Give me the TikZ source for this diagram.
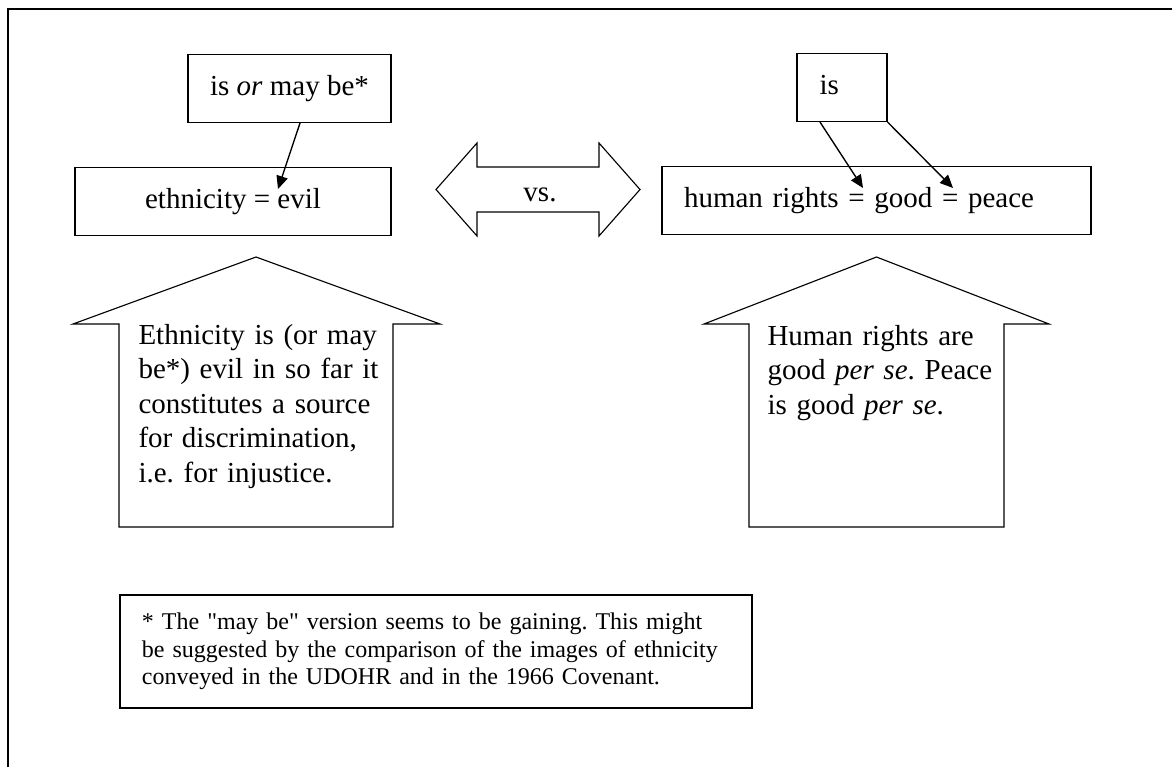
\documentclass[tikz,border=0pt]{standalone}
\usepackage{fontspec}
\setmainfont{Liberation Serif}[Ligatures=TeXOff]
\usepackage{tikz}
\usetikzlibrary{arrows.meta}
\frenchspacing
\tikzstyle{process} = [rectangle, minimum height=27.2pt, inner sep=0pt, text height=8.4pt, text depth=2.6pt, text centered, draw=black, line width=0.45pt]
\tikzstyle{arrowtext} = [text width=120pt, align=left, inner sep=0pt, anchor=base west]
\tikzstyle{notebox} = [rectangle, draw=black, line width=0.45pt, inner sep=0pt, minimum width=252.8pt, minimum height=45.2pt, text width=235.2pt, align=left, font=\fontsize{9.6}{11}\selectfont]
\tikzstyle{outline} = [draw=black, line width=0.45pt]
\tikzstyle{arrow} = [line width=0.55pt, -{Triangle[length=5.2pt,width=4.6pt]}]

\begin{document}
\begin{tikzpicture}[x=0.4pt, y=-0.4pt, node distance=45.2pt, font=\fontsize{11.6}{13.8}\selectfont]
		\useasboundingbox (0,0) rectangle (1172,767);
		\draw [line width=0.6pt] (8,767) -- (8,9) -- (1172,9);

		\node (ethn) [process, minimum width=126.4pt] at (233,201.5) {ethnicity = evil};
		\node (ismay) [process, minimum width=81.2pt, above of=ethn, xshift=22.6pt] {is \textit{or} may be*};
		\node (hr) [process, minimum width=171.6pt, text width=154pt, align=left] at (876.5,200.5) {human rights = good = peace};
		\node (is) [process, minimum width=36pt, text width=18pt, align=left, above of=hr, xshift=-13.8pt] {is};

		\draw [outline] (436,189.5) -- (477,143) -- (477,167) -- (599,167) -- (599,143) -- (640,189.5) -- (599,236) -- (599,212) -- (477,212) -- (477,236) -- cycle;
		\node (vs) at (540,195) {vs.};

		\draw [outline] (119,527) -- (119,324) -- (73,324) -- (256,257) -- (440,324) -- (393,324) -- (393,527) -- cycle;
		\node (ethtext) [arrowtext] at (138,344) {Ethnicity is (or may\\be*) evil in so far it\\constitutes a source\\for discrimination,\\i.e. for injustice.};
		\draw [outline] (749,527) -- (749,324) -- (704,324) -- (876.5,257) -- (1049,324) -- (1004,324) -- (1004,527) -- cycle;
		\node (hrtext) [arrowtext] at (767,345) {Human rights are\\good \textit{per se}. Peace\\is good \textit{per se}.};

		\node (note) [notebox] at (436,651.5) {\mbox{* The "may be" version seems to be gaining. This might}\\\mbox{be suggested by the comparison of the images of ethnicity}\\\mbox{conveyed in the UDOHR and in the 1966 Covenant.}};

		\draw [arrow] ([xshift=4.2pt]ismay.south) -- ([xshift=18pt,yshift=5pt]ethn.center);
		\draw [arrow] ([xshift=-8.8pt]is.south) -- ([xshift=-5.4pt,yshift=5pt]hr.center);
		\draw [arrow] (is.south east) -- ([xshift=30.6pt,yshift=5pt]hr.center);
	\end{tikzpicture}
\end{document}
